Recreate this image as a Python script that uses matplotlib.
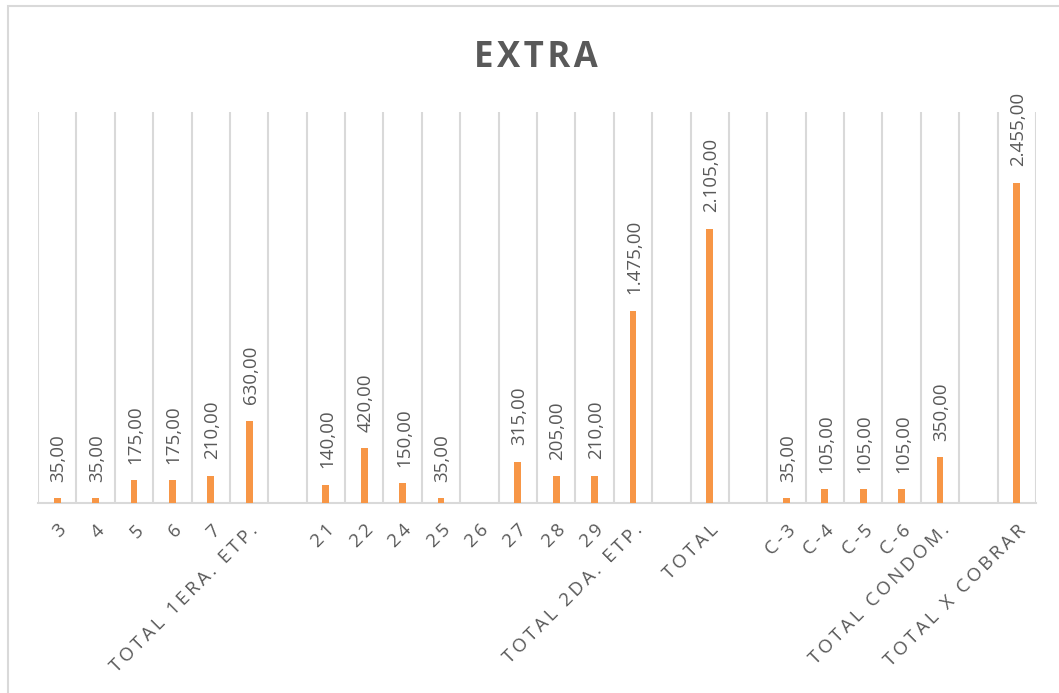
import numpy as np
import matplotlib.pyplot as plt
from matplotlib.patches import Rectangle

categories = ['3', '4', '5', '6', '7', 'TOTAL 1ERA. ETP.', '',
              '21', '22', '24', '25', '26', '27', '28', '29', 'TOTAL 2DA. ETP.', '',
              'TOTAL', '',
              'C-3', 'C-4', 'C-5', 'C-6', 'TOTAL CONDOM.', '',
              'TOTAL X COBRAR']
values = [35, 35, 175, 175, 210, 630, None,
          140, 420, 150, 35, None, 315, 205, 210, 1475, None,
          2105, None,
          35, 105, 105, 105, 350, None,
          2455]

bar_color = '#f79646'
text_color = '#595959'
grid_color = '#d9d9d9'

def fmt(v):
    s = '{:,.2f}'.format(v)
    return s.replace(',', 'X').replace('.', ',').replace('X', '.')

def spaced(s, sep='\u2009'):
    # excel style letter spacing
    return sep.join(s)

plt.rcParams['font.family'] = ['Open Sans', 'DejaVu Sans']

fig = plt.figure(figsize=(10.59, 6.93), dpi=100)
fig.patches.append(Rectangle((8 / 1059, -0.1), 1.2, 1 - 6 / 693 + 0.1,
                             transform=fig.transFigure, fill=False,
                             edgecolor=grid_color, linewidth=1.5))

ax = fig.add_axes([38 / 1059, 1 - 503 / 693, 998 / 1059, 391 / 693])
x = np.arange(len(categories))
heights = [v if v is not None else 0 for v in values]
ax.bar(x, heights, width=0.18, color=bar_color, zorder=3)

for xi, v in zip(x, values):
    if v:
        ax.annotate(fmt(v), (xi, v), xytext=(1, 12), textcoords='offset points',
                    rotation=90, ha='center', va='bottom',
                    fontsize=13.5, color=text_color)

ax.set_xlim(-0.5, len(categories) - 0.5)
ax.set_ylim(0, 3000)
ax.set_yticks([])
for b in np.arange(-0.5, len(categories), 1):
    ax.axvline(b, color=grid_color, linewidth=1.5, zorder=1)

ax.set_xticks(x)
ax.set_xticklabels([spaced(c) for c in categories], rotation=45, ha='right', va='top',
                   rotation_mode='anchor', fontsize=13.5, color=text_color)
ax.tick_params(axis='x', length=0, pad=13)
for side in ['top', 'left', 'right']:
    ax.spines[side].set_visible(False)
ax.spines['bottom'].set_color(grid_color)
ax.spines['bottom'].set_linewidth(1.5)

fig.text(536 / 1059, 1 - 58 / 693, spaced('EXTRA', '\u200a'), ha='center', va='center',
         fontsize=25, fontweight='bold', color=text_color)

fig.savefig('out.png', dpi=100)
